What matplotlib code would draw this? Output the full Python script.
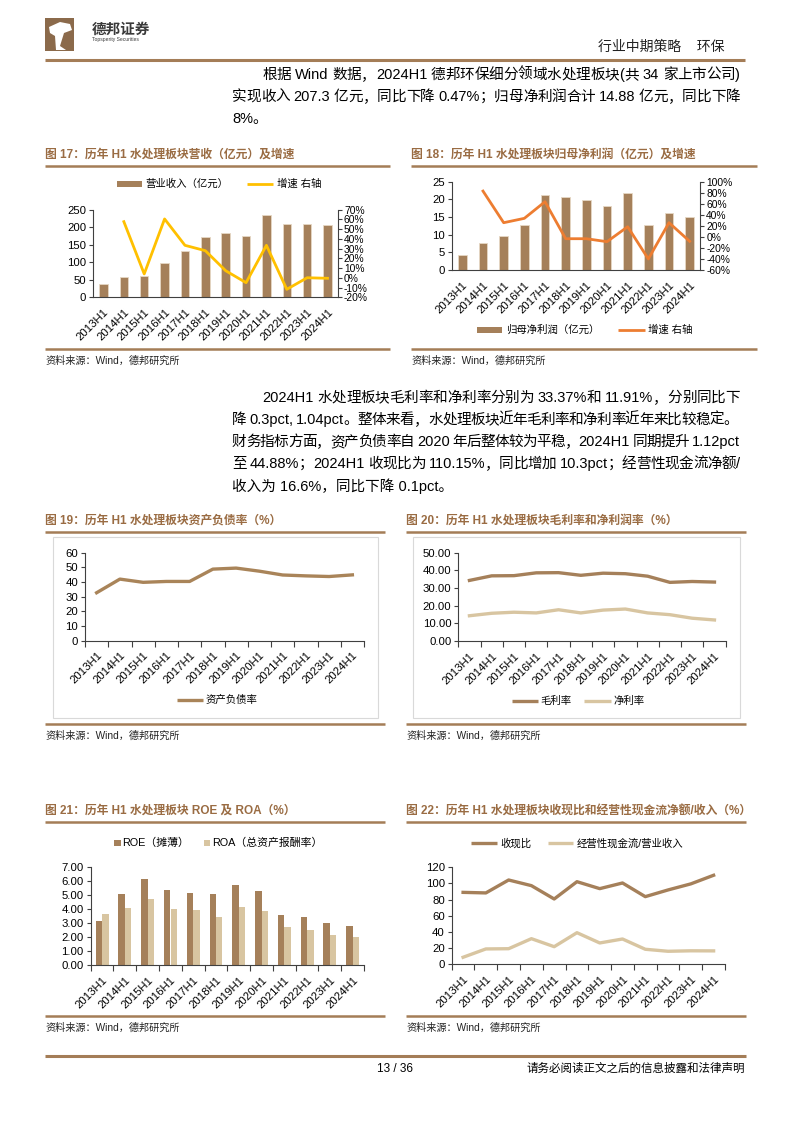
import re
import numpy as np
import matplotlib
matplotlib.use('Agg')
import matplotlib.pyplot as plt
from matplotlib.patches import Rectangle, Polygon
from matplotlib.lines import Line2D
from matplotlib.ticker import FuncFormatter

W, H = 794, 1123
FONT = ['Liberation Sans', 'Noto Sans CJK SC', 'DejaVu Sans']
plt.rcParams['font.family'] = FONT
plt.rcParams['axes.unicode_minus'] = False

# ---------------- data ----------------
years = ['2013H1', '2014H1', '2015H1', '2016H1', '2017H1', '2018H1',
         '2019H1', '2020H1', '2021H1', '2022H1', '2023H1', '2024H1']
revenue = [37, 59, 62, 99, 133, 171, 184, 175, 236, 208, 208, 207.3]
revenue_growth = [np.nan, 57.7, 4.0, 60.5, 33.4, 27.9, 7.3, -5.0, 33.4, -11.8, 0.1, -0.47]
net_profit = [4.25, 7.6, 9.6, 12.8, 21.2, 20.6, 19.8, 18.1, 21.7, 12.8, 16.1, 14.88]
profit_growth = [np.nan, 83, 25.7, 33.6, 63.7, -3.3, -3.3, -8.7, 18.4, -40, 25.7, -8]
debt_ratio = [32.7, 42.0, 39.8, 40.4, 40.4, 48.8, 49.5, 47.4, 44.8, 44.2, 43.76, 44.88]
gross_margin = [34.3, 36.9, 37.0, 38.6, 38.7, 37.2, 38.4, 38.1, 36.7, 33.2, 33.7, 33.37]
net_margin = [14.3, 15.7, 16.3, 15.9, 17.7, 15.9, 17.5, 18.1, 15.9, 14.9, 12.9, 11.91]
roe = [3.14, 5.05, 6.12, 5.36, 5.12, 5.05, 5.72, 5.26, 3.57, 3.40, 3.02, 2.79]
roa = [3.67, 4.07, 4.71, 4.00, 3.93, 3.40, 4.14, 3.83, 2.71, 2.48, 2.12, 2.00]
cash_ratio = [89, 88.3, 104.3, 97.3, 80.8, 102.2, 93.6, 100.6, 83.7, 92, 99.5, 110.15]
cfo_rev = [8.7, 19, 19.3, 31.7, 21.8, 39.1, 26.4, 31.3, 18.6, 16.1, 16.7, 16.6]

# ---------------- colours ----------------
BROWN = '#A5805A'
LIGHT = '#D8C5A1'
TITLE_C = '#9A6C43'
RULE_C = '#A47D57'
YELLOW = '#FFC000'
ORANGE = '#ED7D31'
AX_C = '#404040'

fig = plt.figure(figsize=(W / 100, H / 100), dpi=100)
fig.patch.set_facecolor('white')


def add_ax(x0, y0, x1, y1):
    return fig.add_axes([x0 / W, 1 - y1 / H, (x1 - x0) / W, (y1 - y0) / H])


def text(x, y, s, **kw):
    kw.setdefault('va', 'center')
    return fig.text(x / W, 1 - y / H, s, **kw)


def hline(x0, x1, y, color=RULE_C, lw=1.6):
    fig.add_artist(Line2D([x0 / W, x1 / W], [1 - y / H, 1 - y / H], color=color, lw=lw,
                          solid_capstyle='butt'))


def leg_line(x0, x1, y, color, lw=2.2):
    fig.add_artist(Line2D([x0 / W, x1 / W], [1 - y / H, 1 - y / H], color=color, lw=lw,
                          solid_capstyle='butt'))


def leg_rect(x0, x1, y, h, color):
    fig.add_artist(Rectangle((x0 / W, 1 - (y + h / 2) / H), (x1 - x0) / W, h / H,
                             facecolor=color, edgecolor='none', transform=fig.transFigure))


renderer = fig.canvas.get_renderer()


def justified(x0, x1, y, s, size=10.5):
    tokens = re.findall(r'[A-Za-z0-9.%/]+| |.', s)
    objs = []
    widths = []
    for tk in tokens:
        t = fig.text(0, 1 - y / H, tk, fontsize=size, va='center', ha='left')
        w = t.get_window_extent(renderer).width
        if tk == ' ':
            w = size * 100 / 72 * 0.28
        objs.append(t)
        widths.append(w)
    total = sum(widths)
    gap = (x1 - x0 - total) / max(len(tokens) - 1, 1)
    xx = x0
    for t, w in zip(objs, widths):
        t.set_x(xx / W)
        xx += w + gap


# ---------------- header ----------------
fig.add_artist(Rectangle((45 / W, 1 - 51 / H), 29 / W, 33 / H, facecolor='#8B6A4B',
                         edgecolor='none', transform=fig.transFigure))
fig.add_artist(Polygon([(49 / W, 1 - 27 / H), (60 / W, 1 - 22 / H), (70 / W, 1 - 24 / H),
                        (72 / W, 1 - 30 / H), (64 / W, 1 - 33 / H), (60 / W, 1 - 46 / H),
                        (66 / W, 1 - 50 / H), (56 / W, 1 - 50 / H), (55 / W, 1 - 36 / H),
                        (50 / W, 1 - 33 / H)], closed=True, facecolor='white',
                       edgecolor='none', transform=fig.transFigure))
text(92, 30, '德邦证券', fontsize=10.5, fontweight='bold', color='#3A3A3A')
text(92, 40, 'Topsperity Securities', fontsize=3.6, color='#3A3A3A')
text(725, 47, '行业中期策略    环保', fontsize=10, ha='right', color='#222222')
hline(45, 745, 60, color='#A47D57', lw=2.2)

# paragraph 1
justified(262, 740, 75, '根据 Wind 数据，2024H1 德邦环保细分领域水处理板块(共 34 家上市公司)')
justified(232, 740, 97, '实现收入 207.3 亿元，同比下降 0.47%；归母净利润合计 14.88 亿元，同比下降')
text(232, 119, '8%。', fontsize=10.5)

# paragraph 2
justified(262, 740, 398, '2024H1 水处理板块毛利率和净利率分别为 33.37%和 11.91%，分别同比下')
justified(232, 738, 420, '降 0.3pct, 1.04pct。整体来看，水处理板块近年毛利率和净利率近年来比较稳定。')
justified(232, 740, 442, '财务指标方面，资产负债率自 2020 年后整体较为平稳，2024H1 同期提升 1.12pct')
justified(232, 740, 464, '至 44.88%；2024H1 收现比为 110.15%，同比增加 10.3pct；经营性现金流净额/')
text(232, 486, '收入为 16.6%，同比下降 0.1pct。', fontsize=10.5)

# ---------------- helpers for charts ----------------
x = np.arange(len(years))
TICK_FS = 8.2
RTICK_FS = 7.4


def title_block(x0, x1, y, s):
    text(x0, y, s, fontsize=8.5, fontweight='bold', color=TITLE_C)
    hline(x0, x1, y + 11, lw=1.8)


def source_block(x0, x1, y_line, s='资料来源：Wind，德邦研究所'):
    hline(x0, x1, y_line, lw=1.8)
    text(x0, y_line + 12, s, fontsize=7.3, color='#222222')


def base_style(ax, boundary_ticks=True):
    for s in ['top', 'right']:
        ax.spines[s].set_visible(False)
    for s in ['left', 'bottom']:
        ax.spines[s].set_color(AX_C)
        ax.spines[s].set_linewidth(0.8)
    ax.set_xlim(-0.5, len(years) - 0.5)
    ax.set_xticks(x)
    ax.set_xticklabels(years, rotation=45, ha='right', va='top', rotation_mode='anchor',
                       fontsize=TICK_FS)
    ax.tick_params(axis='x', which='major', length=0, pad=7)
    if boundary_ticks:
        ax.set_xticks(np.arange(-0.5, len(years), 1), minor=True)
        ax.tick_params(axis='x', which='minor', length=4, direction='out', color=AX_C, width=0.8)
    ax.tick_params(axis='y', length=3, direction='out', color=AX_C, width=0.8,
                   labelsize=TICK_FS, pad=2)
    ax.set_facecolor('none')


def right_axis(ax2):
    for s in ['top', 'left', 'bottom']:
        ax2.spines[s].set_visible(False)
    ax2.spines['right'].set_color(AX_C)
    ax2.spines['right'].set_linewidth(0.8)
    ax2.tick_params(axis='y', length=3, color=AX_C, width=0.8, labelsize=RTICK_FS, pad=1.5)
    ax2.yaxis.set_major_formatter(FuncFormatter(lambda v, p: f'{v:.0f}%'))


# ---------------- Chart 17 ----------------
title_block(45, 390, 155, '图 17：历年 H1 水处理板块营收（亿元）及增速')
ax = add_ax(93.3, 209.7, 337.7, 297.3)
base_style(ax, boundary_ticks=False)
ax.bar(x, revenue, width=0.42, color=BROWN, edgecolor='#E6D8C4', linewidth=0.6)
ax.set_ylim(0, 250)
ax.set_yticks(np.arange(0, 251, 50))
ax2 = ax.twinx()
ax2.plot(x, revenue_growth, color=YELLOW, lw=2)
ax2.set_ylim(-20, 70)
ax2.set_yticks(np.arange(-20, 71, 10))
right_axis(ax2)
leg_rect(117, 142, 184, 6, BROWN)
text(145, 184, '营业收入（亿元）', fontsize=7.5)
leg_line(247, 273, 184, YELLOW, lw=2)
text(277, 184, '增速 右轴', fontsize=7.5)
source_block(45, 390, 349)

# ---------------- Chart 18 ----------------
title_block(411, 757, 155, '图 18：历年 H1 水处理板块归母净利润（亿元）及增速')
ax = add_ax(452, 181.7, 700, 270)
base_style(ax, boundary_ticks=False)
ax.bar(x, net_profit, width=0.42, color=BROWN, edgecolor='#E6D8C4', linewidth=0.6)
ax.set_ylim(0, 25)
ax.set_yticks(np.arange(0, 26, 5))
ax2 = ax.twinx()
ax2.plot(x, profit_growth, color=ORANGE, lw=2)
ax2.set_ylim(-60, 100)
ax2.set_yticks(np.arange(-60, 101, 20))
right_axis(ax2)
leg_rect(477, 502, 330, 6, BROWN)
text(506, 330, '归母净利润（亿元）', fontsize=7.5)
leg_line(618, 645, 330, ORANGE, lw=2)
text(648, 330, '增速 右轴', fontsize=7.5)
source_block(411, 757, 349)

# ---------------- Chart 19 ----------------
title_block(45, 385, 521, '图 19：历年 H1 水处理板块资产负债率（%）')
fig.add_artist(Rectangle((52.7 / W, 1 - 718 / H), (378 - 52.7) / W, (718 - 537) / H,
                         facecolor='none', edgecolor='#D9D9D9', lw=0.8,
                         transform=fig.transFigure))
ax = add_ax(85, 552.7, 364, 640.7)
base_style(ax)
ax.plot(x, debt_ratio, color='#A98459', lw=2.4)
ax.set_ylim(0, 60)
ax.set_yticks(np.arange(0, 61, 10))
leg_line(177, 203, 700, '#A98459', lw=2.4)
text(206, 700, '资产负债率', fontsize=7.5)
source_block(45, 385, 724)

# ---------------- Chart 20 ----------------
title_block(406, 746, 521, '图 20：历年 H1 水处理板块毛利率和净利润率（%）')
fig.add_artist(Rectangle((413 / W, 1 - 718 / H), (740 - 413) / W, (718 - 537) / H,
                         facecolor='none', edgecolor='#D9D9D9', lw=0.8,
                         transform=fig.transFigure))
ax = add_ax(458.3, 552.7, 725.6, 641)
base_style(ax)
ax.plot(x, gross_margin, color=BROWN, lw=2.4)
ax.plot(x, net_margin, color=LIGHT, lw=2.4)
ax.set_ylim(0, 50)
ax.set_yticks(np.arange(0, 51, 10))
ax.yaxis.set_major_formatter(FuncFormatter(lambda v, p: f'{v:.2f}'))
leg_line(512, 538, 701, BROWN, lw=2.4)
text(540, 701, '毛利率', fontsize=7.5)
leg_line(584, 611, 701, LIGHT, lw=2.4)
text(613, 701, '净利率', fontsize=7.5)
source_block(406, 746, 724)

# ---------------- Chart 21 ----------------
title_block(45, 385, 811, '图 21：历年 H1 水处理板块 ROE 及 ROA（%）')
ax = add_ax(90.7, 867, 364, 965)
base_style(ax)
ax.bar(x - 0.14, roe, width=0.28, color=BROWN)
ax.bar(x + 0.145, roa, width=0.28, color=LIGHT)
ax.set_ylim(0, 7)
ax.set_yticks(np.arange(0, 7.01, 1))
ax.yaxis.set_major_formatter(FuncFormatter(lambda v, p: f'{v:.2f}'))
leg_rect(114, 120.5, 843, 6.5, BROWN)
text(122, 843, 'ROE（摊薄）', fontsize=7.8)
leg_rect(204, 210.5, 843, 6.5, LIGHT)
text(212, 843, 'ROA（总资产报酬率）', fontsize=7.8)
source_block(45, 385, 1015.7)

# ---------------- Chart 22 ----------------
title_block(406, 746, 811, '图 22：历年 H1 水处理板块收现比和经营性现金流净额/收入（%）')
ax = add_ax(451.7, 867.3, 725, 964.3)
base_style(ax)
ax.plot(x, cash_ratio, color=BROWN, lw=2.4)
ax.plot(x, cfo_rev, color=LIGHT, lw=2.4)
ax.set_ylim(0, 120)
ax.set_yticks(np.arange(0, 121, 20))
leg_line(471, 497, 843, BROWN, lw=2.4)
text(500, 843, '收现比', fontsize=7.5)
leg_line(548, 573, 843, LIGHT, lw=2.4)
text(577, 843, '经营性现金流/营业收入', fontsize=7.5)
source_block(406, 746, 1015.7)

# ---------------- footer ----------------
hline(45, 746, 1056, color='#A47D57', lw=2.2)
text(395, 1069, '13 / 36', fontsize=8.5, ha='center')
text(745, 1069, '请务必阅读正文之后的信息披露和法律声明', fontsize=8.3, ha='right')

fig.savefig('out.png', dpi=100, facecolor='white')
